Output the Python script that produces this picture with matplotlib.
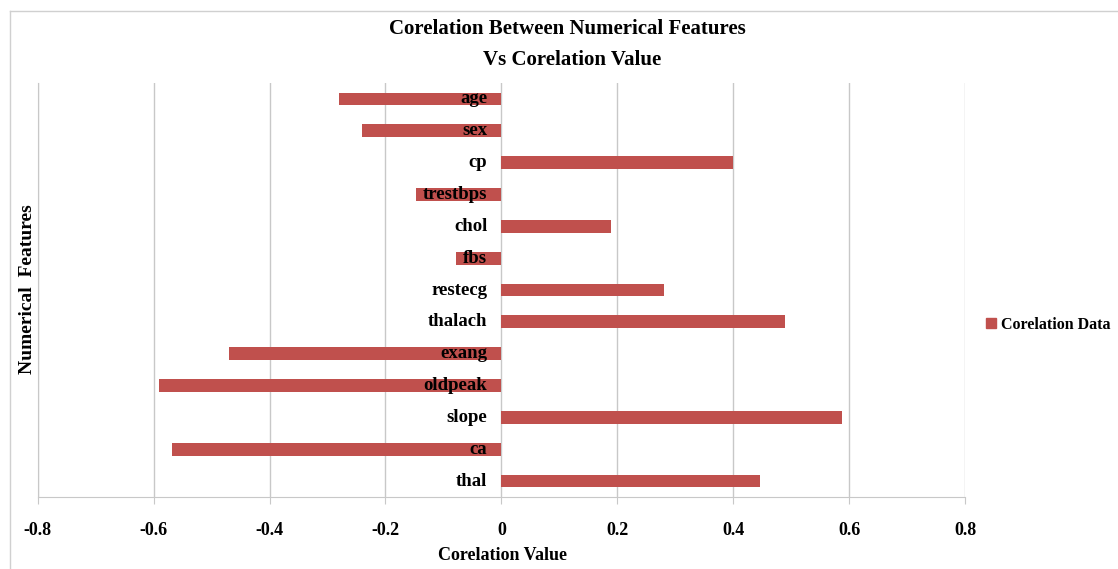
import matplotlib
matplotlib.use('Agg')
from matplotlib import pyplot as plt
import matplotlib.transforms as mtransforms
from matplotlib.lines import Line2D

features = ['age', 'sex', 'cp', 'trestbps', 'chol', 'fbs', 'restecg',
            'thalach', 'exang', 'oldpeak', 'slope', 'ca', 'thal']
corr_values = [-0.28, -0.24, 0.40, -0.147, 0.19, -0.079, 0.28,
               0.49, -0.47, -0.59, 0.587, -0.568, 0.447]
x_ticks = [-0.8, -0.6, -0.4, -0.2, 0, 0.2, 0.4, 0.6, 0.8]
x_ticklabels = ['-0.8', '-0.6', '-0.4', '-0.2', '0', '0.2', '0.4', '0.6', '0.8']

plt.rcParams['font.family'] = ['Liberation Serif', 'DejaVu Serif']
plt.rcParams['font.weight'] = 'bold'

bar_colour = '#C0504D'
grid_colour = '#c8c8c8'

W, H = 1118, 569
fig = plt.figure(figsize=(W / 100, H / 100), dpi=100)
ax = fig.add_axes([0.0337, 0.1265, 0.8295, 0.7276])

ypos = list(range(len(features)))
ax.barh(ypos, corr_values, height=0.4, color=bar_colour, zorder=2)
ax.set_ylim(len(features) - 0.5, -0.5)
ax.set_xlim(-0.8, 0.8)

# gridlines and axis in Excel grey
ax.set_xticks(x_ticks)
ax.set_xticklabels(x_ticklabels, fontsize=13, fontweight='bold')
ax.tick_params(axis='x', length=5, color=grid_colour, pad=13)
ax.set_yticks([])
ax.grid(axis='x', color=grid_colour, linewidth=1, zorder=0)
for side in ['top', 'right']:
    ax.spines[side].set_visible(False)
ax.spines['left'].set_color(grid_colour)
ax.spines['bottom'].set_color(grid_colour)

# category names sit just left of the zero line
off = mtransforms.offset_copy(ax.transData, fig=fig, x=-14, y=0, units='dots')
for i, name in enumerate(features):
    ax.text(0, i, name, transform=off, ha='right', va='center',
            fontsize=13.5, fontweight='bold', zorder=3)

fig.text(567 / W, 1 - 29 / H, 'Corelation Between Numerical Features',
         ha='center', va='center', fontsize=15, fontweight='bold')
fig.text(572 / W, 1 - 60 / H, 'Vs Corelation Value',
         ha='center', va='center', fontsize=15, fontweight='bold')
fig.text(502 / W, 1 - 555 / H, 'Corelation Value', ha='center', va='center',
         fontsize=13, fontweight='bold')
fig.text(28 / W, 1 - 289 / H, 'Numerical  Features', ha='center', va='center',
         rotation=90, fontsize=14, fontweight='bold')

handle = Line2D([], [], marker='s', linestyle='none', color=bar_colour, markersize=7)
fig.legend([handle], ['Corelation Data'], loc='center left',
           bbox_to_anchor=(985 / W, 1 - 325 / H), frameon=False,
           borderpad=0, borderaxespad=0, handlelength=0.8, handletextpad=0.2,
           prop={'size': 11.5, 'weight': 'bold'})

# outer chart frame
fig.add_artist(Line2D([10 / W, 10 / W], [0, 1 - 11 / H], color='#d0d0d0',
                      transform=fig.transFigure, linewidth=1))
fig.add_artist(Line2D([10 / W, 1], [1 - 11 / H, 1 - 11 / H], color='#d0d0d0',
                      transform=fig.transFigure, linewidth=1))

fig.savefig('out.png', dpi=100)
